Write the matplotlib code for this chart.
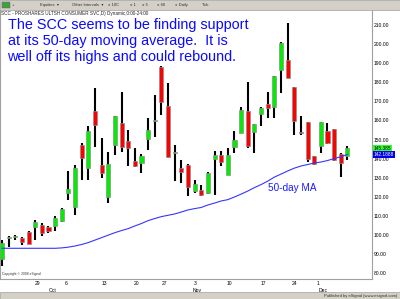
import matplotlib.pyplot as plt
from matplotlib.patches import Rectangle

# daily candles (open, high, low, close), one per trading day
opens = [87.2, 98.4, 99.0, 98.2, 101.7, 104.3, 105.2, 104.3, 104.7, 107.4,
         122.1, 114.8, 147.1, 135.2, 164.9, 136.6, 119.7, 147.1, 158.8, 149.4,
         138.7, 137.8, 150.1, 159.5, 188.1, 167.5, 143.2, 135.1, 136.8, 122.8,
         123.4, 121.9, 139.8, 142.0, 131.5, 145.9, 153.4, 164.8, 153.8, 163.5,
         168.6, 166.9, 186.6, 191.8, 177.3, 154.0, 159.2, 141.2, 146.4, 154.3,
         155.5, 142.4, 141.5]
highs = [97.3, 99.2, 99.8, 98.9, 101.9, 107.8, 106.4, 104.6, 109.9, 114.0,
         133.6, 136.6, 148.3, 157.1, 176.8, 150.6, 143.6, 162.5, 175.0, 155.0,
         145.4, 142.4, 161.1, 173.3, 188.3, 179.8, 147.3, 139.4, 137.0, 128.9,
         126.3, 132.9, 143.8, 143.8, 145.5, 154.3, 166.9, 180.0, 158.4, 166.8,
         174.9, 183.4, 200.9, 211.0, 177.5, 162.1, 159.4, 141.4, 159.2, 158.6,
         155.7, 142.9, 146.4]
lows = [83.7, 93.6, 97.3, 94.7, 95.0, 97.3, 99.4, 101.1, 102.2, 106.8,
        118.3, 110.4, 128.8, 128.8, 146.2, 129.7, 116.9, 141.9, 143.6, 136.1,
        135.7, 132.3, 144.5, 151.5, 162.8, 140.8, 128.1, 127.2, 120.2, 121.9,
        120.2, 121.4, 121.1, 135.9, 131.3, 142.9, 153.2, 145.5, 142.9, 156.9,
        161.3, 161.3, 174.4, 182.0, 152.2, 152.2, 138.2, 136.9, 142.9, 147.6,
        138.6, 130.2, 139.4]
closes = [95.9, 98.6, 99.1, 96.4, 95.2, 106.9, 101.1, 102.0, 108.7, 113.6,
          124.0, 134.9, 140.1, 154.6, 157.6, 132.3, 137.1, 162.3, 146.2, 145.4,
          136.1, 141.3, 155.0, 159.8, 169.8, 141.0, 143.4, 133.0, 124.9, 126.8,
          120.7, 132.4, 142.0, 138.2, 142.0, 149.6, 165.3, 146.7, 158.1, 166.5,
          166.5, 183.1, 200.6, 182.2, 159.5, 153.6, 139.9, 137.3, 159.0, 148.2,
          139.4, 137.7, 145.385]
ma50 = [93.0, 93.0, 93.0, 93.0, 93.0, 93.0, 93.0, 93.0, 93.0, 93.2,
        93.6, 94.2, 95.0, 96.0, 97.3, 98.6, 99.9, 101.2, 102.3, 103.3,
        104.7, 106.0, 107.5, 108.6, 109.6, 110.3, 111.0, 112.0, 113.1, 113.8,
        114.4, 115.7, 116.7, 117.8, 118.5, 119.9, 121.4, 123.0, 124.8, 126.4,
        128.2, 130.3, 131.9, 133.5, 135.0, 136.1, 136.9, 137.7, 138.2, 139.0,
        140.0, 141.0, 142.1888]

day_labels = ['29', '6', '13', '20', '27', '3', '10', '17', '24', '1']
day_bars = [5.3, 9.6, 15.4, 20.3, 24.4, 29.1, 34.3, 39.4, 44.1, 47.5]
month_labels = ['Oct', 'Nov', 'Dec']
month_bars = [7.6, 29.3, 48.3]
price_ticks = list(range(80, 211, 10))

W, H = 400, 299
fig = plt.figure(figsize=(W / 100, H / 100), dpi=100)
fig.patch.set_facecolor('white')
plt.rcParams['font.family'] = ['Liberation Sans', 'DejaVu Sans']


def fx(x):
    return x / W


def fy(y):
    return 1 - y / H


# main chart pane
ax = fig.add_axes([fx(0), fy(279), fx(372), (279 - 10) / H])
n = len(closes)
for i in range(n):
    o, h, l, c = opens[i], highs[i], lows[i], closes[i]
    col = '#00ee00' if c >= o else '#ff0000'
    ax.vlines(i, l, h, color='black', lw=1.5, zorder=2)
    ax.bar(i, max(abs(c - o), 0.5), bottom=min(o, c), width=0.62,
           color=col, edgecolor='#909090', lw=0.5, zorder=3)
ax.plot(range(n), ma50, color='#3535ff', lw=0.8, zorder=4)

ax.set_xlim(-0.3, 55.7)
ax.set_ylim(76.9, 217.9)
ax.yaxis.tick_right()
ax.set_yticks(price_ticks, ['%.2f' % p for p in price_ticks])
ax.set_xticks(day_bars, day_labels)
ax.tick_params(axis='y', length=0, labelsize=3.6, pad=1.5)
ax.tick_params(axis='x', length=0, labelsize=3.6, pad=1.5)
for m, b in zip(month_labels, month_bars):
    ax.text(b, -0.032, m, transform=ax.get_xaxis_transform(),
            ha='center', va='top', fontsize=3.6)
for s in ['left', 'bottom', 'right']:
    ax.spines[s].set_color('#a0a0a0')
    ax.spines[s].set_linewidth(0.8)
ax.spines['top'].set_visible(False)

# last price and moving average tags
ax.text(1.004, closes[-1], '%.3f' % closes[-1], transform=ax.get_yaxis_transform(),
        fontsize=3.4, va='center', ha='left', color='black',
        bbox=dict(boxstyle='square,pad=0.15', fc='#33ff33', ec='none'))
ax.text(1.004, ma50[-1], '%.4f' % ma50[-1], transform=ax.get_yaxis_transform(),
        fontsize=3.4, va='center', ha='left', color='white',
        bbox=dict(boxstyle='square,pad=0.15', fc='#0000ee', ec='none'))

ax.text(0.005, 0.012, 'Copyright \u00a9 2008 eSignal', transform=ax.transAxes,
        fontsize=2.4, color='#333333', va='bottom')

# commentary
fig.text(fx(7.5), fy(18.5), 'The SCC seems to be finding support\n'
         'at its 50-day moving average.  It is\n'
         'well off its highs and could rebound.',
         color='#0a0aff', fontsize=10.4, va='top', ha='left', linespacing=1.18)
ax.text(40.0, 124.5, '50-day MA', color='#1a1aff', fontsize=7.2, ha='left', va='center')

# toolbar and title line
fig.patches.append(Rectangle((0, fy(10)), 1, 10 / H, transform=fig.transFigure,
                             fc='#d4d0c8', ec='#a0a0a0', lw=0.5))
tb = [(12, '+'), (40, 'Equities  \u25be'), (72, 'Other Intervals  \u25be'),
      (108, '\u25cb 10C'), (130, '\u25cb 1'), (142, '\u25cb 5'), (157, '\u25cb 60'),
      (175, '\u25cb Daily'), (202, 'Tick')]
fig.patches.append(Rectangle((fx(2), fy(8)), fx(8), 6 / H, transform=fig.transFigure,
                             fc='#40a040', ec='#606060', lw=0.3))
for x, t in tb:
    fig.text(fx(x), fy(5), t, fontsize=3, va='center', ha='left', color='#303030')
fig.text(fx(1), fy(13.5), 'SCC - PROSHARES ULTSH CONSUMER SVC,D) Dynamic,0:00-24:00',
         fontsize=3.3, va='center', ha='left', color='#202020')

# status bar
fig.patches.append(Rectangle((0, 0), 1, (H - 292) / H, transform=fig.transFigure,
                             fc='#d4d0c8', ec='#a0a0a0', lw=0.5))
fig.text(fx(397), fy(295.5), 'Published by eSignal (www.esignal.com)',
         fontsize=3, va='center', ha='right', color='#303030')

fig.savefig('out.png', dpi=100)
